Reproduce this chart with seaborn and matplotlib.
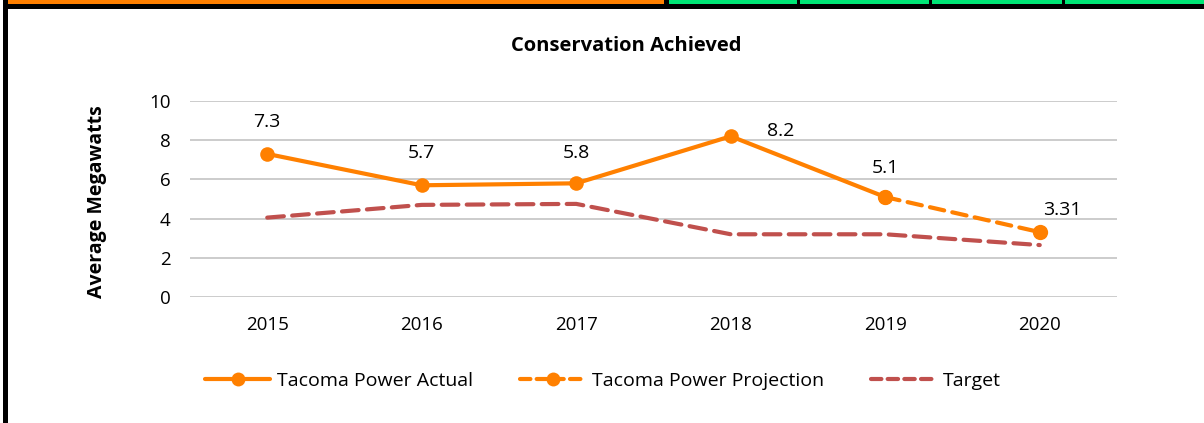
import matplotlib
matplotlib.use("Agg")
import matplotlib.pyplot as plt
from matplotlib.patches import Rectangle
from matplotlib.lines import Line2D
import seaborn as sns
import pandas as pd

# Chart values
years = [2015, 2016, 2017, 2018, 2019, 2020]
actual_years = [2015, 2016, 2017, 2018, 2019]
actual = [7.3, 5.7, 5.8, 8.2, 5.1]
projection_years = [2019, 2020]
projection = [5.1, 3.31]
target = [4.05, 4.7, 4.75, 3.2, 3.2, 2.65]
labels = ["7.3", "5.7", "5.8", "8.2", "5.1", "3.31"]
label_values = [7.3, 5.7, 5.8, 8.2, 5.1, 3.31]

orange = "#FF8000"
red = "#C0504D"

sns.set_style("white")
plt.rcParams['font.family'] = ['Open Sans', 'DejaVu Sans']
plt.rcParams['text.color'] = 'black'

W, H = 1204, 423
fig = plt.figure(figsize=(W / 100, H / 100), dpi=100)
ax = fig.add_axes([190 / W, 1 - 297 / H, (1117 - 190) / W, (297 - 101) / H])

df_target = pd.DataFrame({"year": years, "value": target})
df_actual = pd.DataFrame({"year": actual_years, "value": actual})
df_proj = pd.DataFrame({"year": projection_years, "value": projection})

sns.lineplot(data=df_target, x="year", y="value", ax=ax, color=red, lw=3,
             dashes=False, zorder=2)
ax.lines[-1].set_dashes((4, 2))
ax.lines[-1].set_dash_capstyle("round")
sns.lineplot(data=df_proj, x="year", y="value", ax=ax, color=orange, lw=3,
             marker="o", markersize=11, markeredgewidth=0, zorder=3)
ax.lines[-1].set_dashes((3.5, 2))
ax.lines[-1].set_dash_capstyle("round")
sns.lineplot(data=df_actual, x="year", y="value", ax=ax, color=orange, lw=3,
             marker="o", markersize=10.5, markeredgewidth=0, zorder=4)

# data labels (offsets in points)
offsets = [(0, 23), (0, 23), (0, 22), (36, 4), (0, 21), (16, 16)]
for yr, v, t, off in zip(years, label_values, labels, offsets):
    ax.annotate(t, (yr, v), xytext=off, textcoords="offset points",
                ha="center", va="center", fontsize=14, color="black")

ax.set_xlim(2014.5, 2020.5)
ax.set_ylim(0, 10)
ax.set_xticks(years)
ax.set_yticks(range(0, 11, 2))
ax.tick_params(axis="both", length=0, labelsize=13.5, colors="black")
ax.tick_params(axis="x", pad=14)
ax.tick_params(axis="y", pad=14)
ax.yaxis.grid(True, color="#C8C8C8", lw=1.3)
ax.xaxis.grid(False)
for s in ax.spines.values():
    s.set_visible(False)
ax.set_xlabel("")
ax.set_ylabel("")

fig.text(626 / W, 1 - 46 / H, "Conservation Achieved", ha="center", va="center",
         fontsize=14.5, fontweight="bold", color="black")
fig.text(97 / W, 1 - 202 / H, "Average Megawatts", ha="center", va="center",
         rotation=90, fontsize=14, fontweight="bold", color="black")

handles = [
    Line2D([], [], color=orange, lw=3, marker="o", markersize=10, markeredgewidth=0),
    Line2D([], [], color=orange, lw=3, marker="o", markersize=10, markeredgewidth=0,
           dashes=(2.5, 1.5), dash_capstyle="round"),
    Line2D([], [], color=red, lw=3, dashes=(2.5, 1.5), dash_capstyle="round"),
]
fig.legend(handles, ["Tacoma Power Actual", "Tacoma Power Projection", "Target"],
           loc="center", bbox_to_anchor=(603 / W, 1 - 381 / H), ncol=3,
           frameon=False, fontsize=14, handlelength=3.35, columnspacing=2.4,
           handletextpad=0.35, labelcolor="black")

# frame decorations
def px_rect(x0, y0, x1, y1, color):
    fig.add_artist(Rectangle((x0 / W, 1 - y1 / H), (x1 - x0) / W, (y1 - y0) / H,
                             transform=fig.transFigure, color=color, lw=0))

px_rect(8, 0, 664, 4, orange)
for a, b in [(669, 797), (800, 929), (932, 1062), (1065, W)]:
    px_rect(a, 0, b, 4, "#00E676")
px_rect(3, 4, W, 9, "#000000")
px_rect(664, 0, 669, 4, "#000000")
px_rect(797, 0, 800, 4, "#000000")
px_rect(929, 0, 932, 4, "#000000")
px_rect(1062, 0, 1065, 4, "#000000")
px_rect(3, 0, 8, H, "#000000")

fig.savefig("out.png", dpi=100)
